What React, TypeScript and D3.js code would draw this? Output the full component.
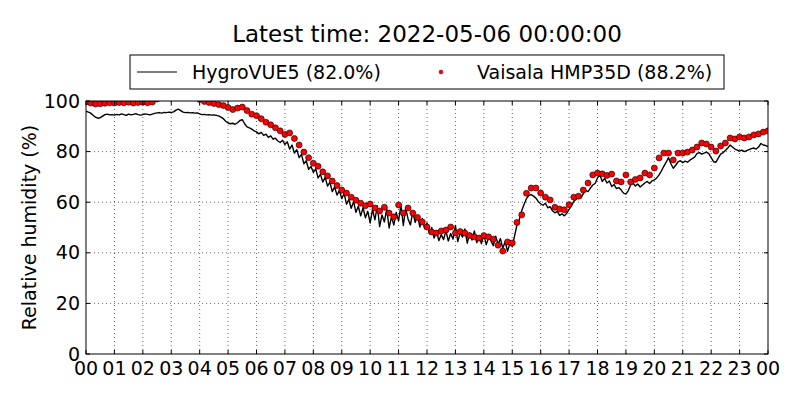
import React, { useEffect, useRef } from 'react';
import * as d3 from 'd3';

// HygroVUE5, 5-minute samples, one row per hour (00..23), then 24:00
const hygroVue: number[] = [
  96.0, 95.6, 95.2, 94.4, 93.6, 93.2, 93.4, 94.0, 94.6, 94.8, 94.5, 94.6,
  94.4, 94.7, 94.5, 94.9, 94.6, 94.3, 94.8, 94.5, 94.7, 95.0, 94.6, 94.4,
  94.6, 94.9, 94.7, 94.5, 94.8, 95.1, 95.3, 95.4, 95.2, 95.5, 95.4, 95.6,
  95.5, 95.7, 96.4, 96.8, 96.2, 95.6, 95.4, 95.5, 95.3, 95.4, 95.2, 95.3,
  94.9, 94.6, 94.7, 94.5, 94.6, 94.4, 94.5, 94.3, 94.1, 93.6, 93.0, 92.0,
  91.3, 91.0, 91.2, 90.8, 91.4, 92.3, 92.6, 91.0, 89.8, 89.4, 88.9, 88.2,
  87.8, 87.0, 87.6, 86.4, 86.9, 85.6, 86.2, 84.9, 85.3, 84.2, 83.6, 84.5,
  82.8, 83.9, 81.0, 82.6, 79.4, 80.8, 77.6, 78.9, 75.2, 76.4, 73.0, 74.1,
  71.8, 73.2, 69.6, 71.0, 68.0, 69.8, 66.4, 67.9, 64.2, 66.0, 62.8, 64.6,
  61.4, 63.5, 59.2, 61.0, 57.6, 60.2, 56.0, 58.4, 54.6, 57.8, 53.8, 56.4,
  51.8, 57.2, 53.0, 58.6, 50.4, 55.0, 52.2, 57.4, 49.8, 54.2, 51.0, 56.0,
  52.6, 59.0, 50.8, 57.6, 53.4, 51.0, 56.2, 52.0, 54.8, 50.2, 53.6, 49.6,
  51.8, 47.6, 50.0, 45.8, 48.6, 44.8, 47.2, 45.2, 48.8, 44.6, 47.6, 45.4,
  50.8, 44.4, 48.0, 46.2, 49.4, 43.8, 47.8, 45.0, 48.6, 44.0, 46.8, 43.6,
  47.2, 43.2, 46.0, 44.8, 42.8, 46.6, 43.4, 45.6, 41.8, 44.4, 40.6, 43.8,
  42.4, 46.8, 51.0, 53.2, 56.6, 59.2, 61.4, 62.6, 63.0, 62.4, 61.6, 60.2,
  59.4, 58.8, 59.6, 57.8, 58.2, 56.6, 55.8, 56.4, 54.8, 55.4, 54.6, 55.6,
  57.2, 58.6, 60.4, 61.2, 62.0, 61.6, 63.4, 64.6, 64.2, 65.6, 66.8, 67.4,
  69.6, 70.8, 68.2, 69.4, 67.6, 68.4, 66.2, 67.0, 65.4, 65.8, 64.8, 63.6,
  63.2, 64.6, 66.8, 67.6, 66.4, 67.2, 66.0, 66.8, 67.6, 68.2, 67.4, 68.4,
  68.8, 69.6, 70.8, 72.4, 74.2, 75.8, 77.6, 75.2, 73.4, 74.6, 75.9, 76.4,
  75.6, 76.2, 75.8, 76.6, 77.2, 77.8, 79.2, 79.6, 79.0, 79.4, 79.8, 79.2,
  77.6, 76.0, 75.8, 77.4, 79.0, 79.6, 80.4, 81.4, 82.6, 81.8, 81.0, 80.6,
  80.2, 80.6, 80.0, 80.4, 80.8, 81.2, 81.4, 81.0, 81.8, 83.2, 82.6, 82.4,
  82.0,
];

// Vaisala HMP35D, 10-minute samples, one row per hour, then 24:00
const vaisala: number[] = [
  99.6, 99.2, 98.8, 98.9, 99.1, 99.3,
  99.2, 99.4, 99.3, 99.5, 99.2, 99.4,
  99.5, 99.3, 99.6, 100.8, 101.5, 101.8,
  102.0, 102.2, 102.1, 101.9, 101.7, 101.4,
  100.6, 99.8, 99.4, 99.0, 98.6, 98.2,
  97.4, 96.6, 97.2, 97.6, 96.2, 94.8,
  94.2, 93.0, 91.6, 90.6, 89.4, 88.2,
  86.8, 87.4, 85.2, 82.6, 79.8, 77.6,
  75.4, 74.2, 72.0, 70.4, 68.4, 66.6,
  64.8, 63.6, 62.0, 60.8, 59.6, 58.6,
  59.3, 57.7, 56.5, 58.0, 55.7, 54.2,
  58.9, 55.7, 57.7, 55.7, 54.0, 52.2,
  50.2, 48.2, 47.8, 48.6, 49.0, 50.2,
  47.8, 48.4, 47.8, 46.8, 46.3, 45.8,
  46.8, 46.3, 45.4, 43.0, 40.7, 44.3,
  43.9, 52.0, 55.0, 63.5, 65.6, 65.6,
  63.6, 62.0, 60.9, 58.0, 57.3, 57.0,
  59.0, 62.0, 62.4, 64.8, 67.6, 70.8,
  71.5, 71.2, 70.6, 71.1, 68.4, 68.0,
  70.8, 68.0, 69.0, 69.6, 71.5, 70.8,
  73.5, 77.5, 79.4, 79.4, 76.7, 79.4,
  79.4, 79.8, 80.6, 81.8, 83.4, 83.0,
  81.8, 80.2, 82.2, 83.4, 85.4, 85.0,
  85.8, 85.4, 85.8, 86.6, 87.0, 87.7,
  88.2,
];

const hourTicks: number[] = d3.range(0, 25);
const humidityTicks: number[] = [0, 20, 40, 60, 80, 100];
const seriesNames: string[] = ['HygroVUE5 (82.0%)', 'Vaisala HMP35D (88.2%)'];
const titleText = 'Latest time: 2022-05-06 00:00:00';
const yLabel = 'Relative humidity (%)';

const App: React.FC = () => {
  const svgRef = useRef<SVGSVGElement>(null);

  useEffect(() => {
    if (!svgRef.current) return;
    const svg = d3.select(svgRef.current);
    svg.selectAll('*').remove();

    const width = 800;
    const height = 400;
    const margin = { top: 101, right: 32, bottom: 46, left: 86 };
    const innerWidth = width - margin.left - margin.right;
    const innerHeight = height - margin.top - margin.bottom;
    const font = 'DejaVu Sans, sans-serif';

    const xScale = d3.scaleLinear().domain([0, 24]).range([0, innerWidth]);
    const yScale = d3.scaleLinear().domain([0, 100]).range([innerHeight, 0]);

    svg.append('rect').attr('width', width).attr('height', height).attr('fill', '#fff');

    svg.append('defs').append('clipPath').attr('id', 'plot-clip')
      .append('rect').attr('width', innerWidth).attr('height', innerHeight);

    const g = svg.append('g').attr('transform', `translate(${margin.left},${margin.top})`);

    // dotted grid
    const grid = g.append('g').attr('stroke', '#000').attr('stroke-width', 0.6)
      .attr('stroke-dasharray', '1,3');
    hourTicks.slice(1, -1).forEach(h => {
      grid.append('line').attr('x1', xScale(h)).attr('x2', xScale(h))
        .attr('y1', 0).attr('y2', innerHeight);
    });
    humidityTicks.slice(1, -1).forEach(v => {
      grid.append('line').attr('x1', 0).attr('x2', innerWidth)
        .attr('y1', yScale(v)).attr('y2', yScale(v));
    });

    const plot = g.append('g').attr('clip-path', 'url(#plot-clip)');

    // HygroVUE5 line
    const line = d3.line<number>()
      .x((_, i) => xScale(i * 5 / 60))
      .y(d => yScale(d));
    plot.append('path').datum(hygroVue)
      .attr('d', line)
      .attr('fill', 'none')
      .attr('stroke', '#000')
      .attr('stroke-width', 1.4)
      .attr('stroke-linejoin', 'round');

    // Vaisala dots
    plot.selectAll('circle.vaisala').data(vaisala).enter()
      .append('circle')
      .attr('class', 'vaisala')
      .attr('cx', (_, i) => xScale(i * 10 / 60))
      .attr('cy', d => yScale(d))
      .attr('r', 3)
      .attr('fill', '#ff0000')
      .attr('stroke', '#000')
      .attr('stroke-width', 0.6);

    // frame
    g.append('rect').attr('width', innerWidth).attr('height', innerHeight)
      .attr('fill', 'none').attr('stroke', '#000').attr('stroke-width', 1);

    // inward ticks on all four sides
    const tickLen = 4;
    const ticks = g.append('g').attr('stroke', '#000').attr('stroke-width', 1);
    hourTicks.forEach(h => {
      ticks.append('line').attr('x1', xScale(h)).attr('x2', xScale(h))
        .attr('y1', innerHeight).attr('y2', innerHeight - tickLen);
      ticks.append('line').attr('x1', xScale(h)).attr('x2', xScale(h))
        .attr('y1', 0).attr('y2', tickLen);
    });
    humidityTicks.forEach(v => {
      ticks.append('line').attr('x1', 0).attr('x2', tickLen)
        .attr('y1', yScale(v)).attr('y2', yScale(v));
      ticks.append('line').attr('x1', innerWidth).attr('x2', innerWidth - tickLen)
        .attr('y1', yScale(v)).attr('y2', yScale(v));
    });

    // tick labels
    const fmt = d3.format('02d');
    g.append('g').selectAll('text').data(hourTicks).enter().append('text')
      .attr('x', d => xScale(d))
      .attr('y', innerHeight + 21)
      .attr('text-anchor', 'middle')
      .attr('font-family', font)
      .attr('font-size', 19)
      .text(d => fmt(d % 24));
    g.append('g').selectAll('text').data(humidityTicks).enter().append('text')
      .attr('x', -6)
      .attr('y', d => yScale(d))
      .attr('dy', '0.35em')
      .attr('text-anchor', 'end')
      .attr('font-family', font)
      .attr('font-size', 19)
      .text(d => d);

    // y label
    svg.append('text')
      .attr('transform', `translate(36,${margin.top + innerHeight / 2}) rotate(-90)`)
      .attr('text-anchor', 'middle')
      .attr('font-family', font)
      .attr('font-size', 19)
      .text(yLabel);

    // title
    svg.append('text')
      .attr('x', margin.left + innerWidth / 2)
      .attr('y', 42)
      .attr('text-anchor', 'middle')
      .attr('font-family', font)
      .attr('font-size', 23)
      .text(titleText);

    // legend
    const legend = svg.append('g');
    legend.append('rect').attr('x', 130).attr('y', 55).attr('width', 594).attr('height', 34)
      .attr('fill', '#fff').attr('stroke', '#000').attr('stroke-width', 1);
    legend.append('line').attr('x1', 137).attr('x2', 177).attr('y1', 72).attr('y2', 72)
      .attr('stroke', '#000').attr('stroke-width', 1.2);
    legend.append('circle').attr('cx', 441).attr('cy', 72).attr('r', 2)
      .attr('fill', '#ff0000').attr('stroke', '#000').attr('stroke-width', 0.4);
    legend.selectAll('text').data(seriesNames).enter().append('text')
      .attr('x', (_, i) => (i === 0 ? 192 : 477))
      .attr('y', 72)
      .attr('dy', '0.35em')
      .attr('font-family', font)
      .attr('font-size', 19)
      .text(d => d);
  }, []);

  return (
    <svg ref={svgRef} width={800} height={400}
      style={{ position: 'absolute', left: 0, top: 0 }} />
  );
};

export default App;
